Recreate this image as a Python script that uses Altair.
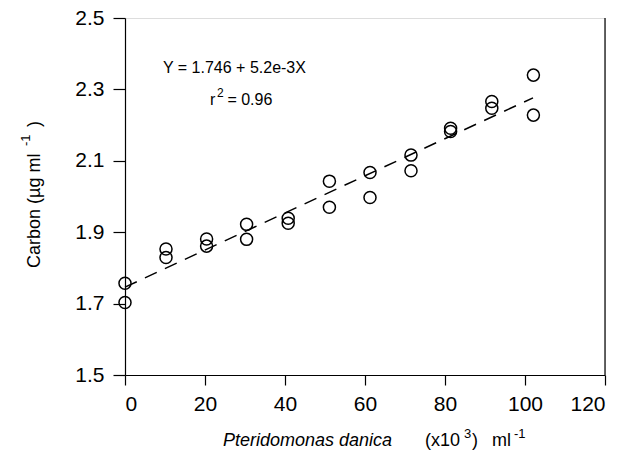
import altair as alt
import pandas as pd

# Data
cell_density = [0, 0, 10.25, 10.25, 20.4, 20.4, 30.4, 30.4, 40.8, 40.8,
                51.1, 51.1, 61.25, 61.25, 71.5, 71.5, 81.4, 81.4, 91.7, 91.7, 102.1, 102.1]
carbon = [1.757, 1.703, 1.853, 1.829, 1.881, 1.861, 1.922, 1.880, 1.939, 1.925,
          2.043, 1.970, 2.067, 1.997, 2.116, 2.072, 2.191, 2.182, 2.266, 2.247, 2.340, 2.228]

intercept = 1.746
slope = 5.2e-3
line_x = [0, 102]

x_ticks = [0, 20, 40, 60, 80, 100, 120]
y_ticks = [1.5, 1.7, 1.9, 2.1, 2.3, 2.5]

# annotation pieces (text, x, y in data units, font size)
ann_text = ["Y = 1.746 + 5.2e-3X", "r", "2", "=  0.96"]
ann_x = [9.5, 21.25, 23.0, 25.6]
ann_y = [2.346, 2.256, 2.279, 2.256]
ann_size = [16, 16, 12, 16]

FONT = "Liberation Sans"

pts = pd.DataFrame({"x": cell_density, "y": carbon})
line_df = pd.DataFrame({"x": line_x})
ann_df = pd.DataFrame({"x": ann_x, "y": ann_y, "t": ann_text, "s": ann_size})

xscale = alt.Scale(domain=[0, 120], nice=False)
yscale = alt.Scale(domain=[1.5, 2.5], nice=False, zero=False)

xaxis = alt.Axis(values=x_ticks, title=None, grid=False, tickSize=10, tickColor="black",
                 domainColor="black", labelFontSize=21, labelFont=FONT, labelColor="black",
                 labelPadding=8, domainWidth=1.2, tickWidth=1.2)
yaxis = alt.Axis(values=y_ticks, title=None, grid=False, tickSize=12,
                 tickColor="black", domainColor="black", labelFontSize=21, labelFont=FONT,
                 labelColor="black", labelPadding=9, format=".1f", domainWidth=1.2, tickWidth=1.2)

points = alt.Chart(pts).mark_point(shape="circle", filled=False, color="black",
                                   strokeWidth=1.5, size=145, opacity=1).encode(
    x=alt.X("x:Q", scale=xscale, axis=xaxis),
    y=alt.Y("y:Q", scale=yscale, axis=yaxis),
)

fit = alt.Chart(line_df).transform_calculate(
    y=f"{intercept} + {slope} * datum.x"
).mark_line(color="black", strokeDash=[13, 9], strokeWidth=1.5).encode(
    x=alt.X("x:Q", scale=xscale),
    y=alt.Y("y:Q", scale=yscale),
)

ann = alt.Chart(ann_df).mark_text(
    align="left", baseline="alphabetic", font=FONT, color="black"
).encode(
    x=alt.X("x:Q", scale=xscale), y=alt.Y("y:Q", scale=yscale), text="t:N",
    size=alt.Size("s:Q", scale=None, legend=None),
)

right_frame = alt.Chart(pd.DataFrame({"a": [0]})).mark_rule(color="black", strokeWidth=1.2).encode(
    x=alt.value(480), y=alt.value(0), y2=alt.value(357)
)

# x-axis title pieces (plot-area pixel positions, left aligned)
xt_text = ["(x10", "3", ")", "ml", "-1"]
xt_x = [300, 339, 347, 367, 389]
xt_y = [428, 420, 428, 428, 420]
xt_size = [18, 13, 18, 18, 13]

x_title_italic = alt.Chart(pd.DataFrame({"t": ["Pteridomonas danica"]})).mark_text(
    align="right", baseline="alphabetic", font=FONT, fontSize=18, fontStyle="italic", color="black"
).encode(x=alt.value(267), y=alt.value(428), text="t:N")

x_title_rest = [
    alt.Chart(pd.DataFrame({"t": [t]})).mark_text(
        align="left", baseline="alphabetic", font=FONT, fontSize=s, color="black"
    ).encode(x=alt.value(x), y=alt.value(y), text="t:N")
    for t, x, y, s in zip(xt_text, xt_x, xt_y, xt_size)
]

# y-axis title pieces (rotated), plot-area pixel positions
yt_text = ["Carbon (\u00b5g  ml", "-1", ")"]
yt_x = [-85, -95, -85]
yt_y = [250, 128, 109]
yt_size = [18, 13, 18]

y_title = [
    alt.Chart(pd.DataFrame({"t": [t]})).mark_text(
        align="left", baseline="alphabetic", angle=270, font=FONT, fontSize=s, color="black"
    ).encode(x=alt.value(x), y=alt.value(y), text="t:N")
    for t, x, y, s in zip(yt_text, yt_x, yt_y, yt_size)
]

chart = alt.layer(fit, points, ann, right_frame, x_title_italic, *x_title_rest, *y_title).properties(
    width=480, height=357,
    autosize=alt.AutoSizeParams(type="none"),
    padding={"left": 117, "top": 10, "right": 10, "bottom": 75},
).configure_view(stroke=None).configure(background="white")

chart.save("out.html", embed_options={"renderer": "svg", "actions": False})
